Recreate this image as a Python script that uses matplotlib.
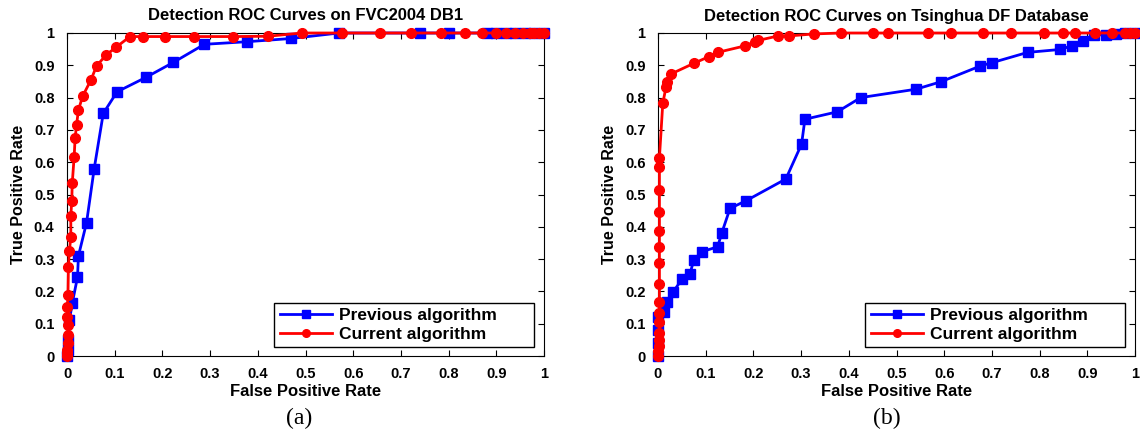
import numpy as np
import matplotlib.pyplot as plt

plt.rcParams['font.family'] = ['Liberation Sans', 'DejaVu Sans']
plt.rcParams['font.weight'] = 'bold'

# (a) FVC2004 DB1
prev_a_fpr = [0, 0.002, 0.003, 0.005, 0.011, 0.022, 0.024, 0.041, 0.057, 0.076, 0.105, 0.166,
              0.223, 0.288, 0.377, 0.47, 0.57, 0.74, 0.80, 0.88, 0.90, 0.92, 0.94, 0.96, 0.98, 1.0]
prev_a_tpr = [0, 0.02, 0.05, 0.11, 0.163, 0.244, 0.31, 0.413, 0.58, 0.751, 0.818, 0.863,
              0.909, 0.965, 0.973, 0.983, 1.0, 1.0, 1.0, 1.0, 1.0, 1.0, 1.0, 1.0, 1.0, 1.0]
cur_a_fpr = [0, 0.001, 0.001, 0.002, 0.002, 0.002, 0.001, 0.001, 0.002, 0.003, 0.005, 0.008,
             0.008, 0.010, 0.011, 0.015, 0.017, 0.020, 0.024, 0.033, 0.050, 0.062, 0.082, 0.103,
             0.132, 0.160, 0.205, 0.267, 0.347, 0.422, 0.492, 0.576, 0.657, 0.722, 0.785, 0.834,
             0.869, 0.90, 0.92, 0.94, 0.955, 0.97, 0.98, 0.99, 1.0]
cur_a_tpr = [0, 0.01, 0.02, 0.04, 0.065, 0.096, 0.122, 0.153, 0.189, 0.276, 0.326, 0.367,
             0.433, 0.481, 0.535, 0.617, 0.674, 0.715, 0.762, 0.805, 0.854, 0.898, 0.932, 0.956,
             0.989, 0.989, 0.989, 0.989, 0.989, 0.99, 1.0, 1.0, 1.0, 1.0, 1.0, 1.0,
             1.0, 1.0, 1.0, 1.0, 1.0, 1.0, 1.0, 1.0, 1.0]

# (b) Tsinghua DF Database
prev_b_fpr = [0, 0, 0, 0, 0.013, 0.018, 0.032, 0.05, 0.067, 0.075, 0.092, 0.125, 0.134, 0.151,
              0.185, 0.268, 0.301, 0.308, 0.376, 0.425, 0.541, 0.593, 0.676, 0.70, 0.775,
              0.843, 0.867, 0.892, 0.913, 0.94, 0.96, 0.98, 1.0]
prev_b_tpr = [0, 0.04, 0.08, 0.12, 0.137, 0.168, 0.199, 0.237, 0.254, 0.297, 0.323, 0.338, 0.382,
              0.457, 0.481, 0.548, 0.656, 0.733, 0.756, 0.80, 0.826, 0.849, 0.898, 0.908, 0.94,
              0.949, 0.96, 0.975, 0.994, 0.995, 0.997, 1.0, 1.0]
cur_b_fpr = [0, 0.001, 0.002, 0.002, 0.003, 0.003, 0.003, 0.003, 0.003, 0.003, 0.003, 0.003,
             0.003, 0.003, 0.003, 0.003, 0.010, 0.017, 0.018, 0.027, 0.075, 0.107, 0.125, 0.182,
             0.203, 0.21, 0.252, 0.275, 0.326, 0.383, 0.45, 0.483, 0.565, 0.615, 0.682, 0.739,
             0.809, 0.85, 0.874, 0.916, 0.951, 0.98, 0.99, 1.0]
cur_b_tpr = [0, 0.015, 0.03, 0.05, 0.07, 0.106, 0.132, 0.168, 0.222, 0.287, 0.338, 0.388,
             0.447, 0.514, 0.586, 0.614, 0.782, 0.834, 0.849, 0.873, 0.906, 0.927, 0.94, 0.96,
             0.973, 0.977, 0.991, 0.991, 0.997, 1.0, 1.0, 1.0, 1.0, 1.0, 1.0, 1.0,
             1.0, 1.0, 1.0, 1.0, 1.0, 1.0, 1.0, 1.0]

titles = ['Detection ROC Curves on FVC2004 DB1', 'Detection ROC Curves on Tsinghua DF Database']
captions = ['(a)', '(b)']
legend_labels = ['Previous algorithm', 'Current algorithm']
ticks = np.round(np.arange(0, 1.01, 0.1), 1)
tick_labels = ['0'] + ['%.1f' % t for t in ticks[1:-1]] + ['1']

fig = plt.figure(figsize=(11.4, 4.32), dpi=100)
ax_a = fig.add_axes([67 / 1140, 76 / 432, 477 / 1140, 323 / 432])
ax_b = fig.add_axes([658 / 1140, 76 / 432, 477 / 1140, 323 / 432])

data = [(prev_a_fpr, prev_a_tpr, cur_a_fpr, cur_a_tpr),
        (prev_b_fpr, prev_b_tpr, cur_b_fpr, cur_b_tpr)]

for ax, (pf, pt, cf, ct), title in zip([ax_a, ax_b], data, titles):
    ax.plot(pf, pt, color='#0000ff', lw=2, marker='s', ms=6.5, clip_on=False,
            label=legend_labels[0], zorder=3)
    ax.plot(cf, ct, color='#ff0000', lw=2, marker='o', ms=7, clip_on=False,
            label=legend_labels[1], zorder=4)
    ax.set_xlim(0, 1)
    ax.set_ylim(0, 1)
    ax.set_xticks(ticks)
    ax.set_yticks(ticks)
    ax.set_xticklabels(tick_labels)
    ax.set_yticklabels(tick_labels)
    ax.tick_params(direction='in', top=True, right=True, labelsize=10.5, length=4)
    ax.tick_params(axis='x', pad=8)
    ax.tick_params(axis='y', pad=9)
    ax.set_title(title, fontsize=12, fontweight='bold', pad=9)
    ax.set_xlabel('False Positive Rate', fontsize=12, fontweight='bold', labelpad=2)
    ax.set_ylabel('True Positive Rate', fontsize=11.5, fontweight='bold', labelpad=6)
    leg = ax.legend(loc='lower left', bbox_to_anchor=(0.435, 0.028, 0.543, 0.14),
                    mode='expand', borderaxespad=0, fancybox=False, framealpha=1,
                    edgecolor='black', handlelength=3.0, handletextpad=0.4,
                    borderpad=0.3, labelspacing=0.2,
                    prop={'weight': 'bold', 'size': 12.5})
    leg.get_frame().set_linewidth(1.0)
    leg.set_zorder(10)
    for h in leg.legend_handles:
        h.set_markersize(5.5)

fig.text(299 / 1140, 1 - 418 / 432, captions[0], family='Liberation Serif',
         fontsize=17, fontweight='normal', ha='center', va='center')
fig.text(887 / 1140, 1 - 418 / 432, captions[1], family='Liberation Serif',
         fontsize=17, fontweight='normal', ha='center', va='center')

fig.savefig('out.png', dpi=100)
